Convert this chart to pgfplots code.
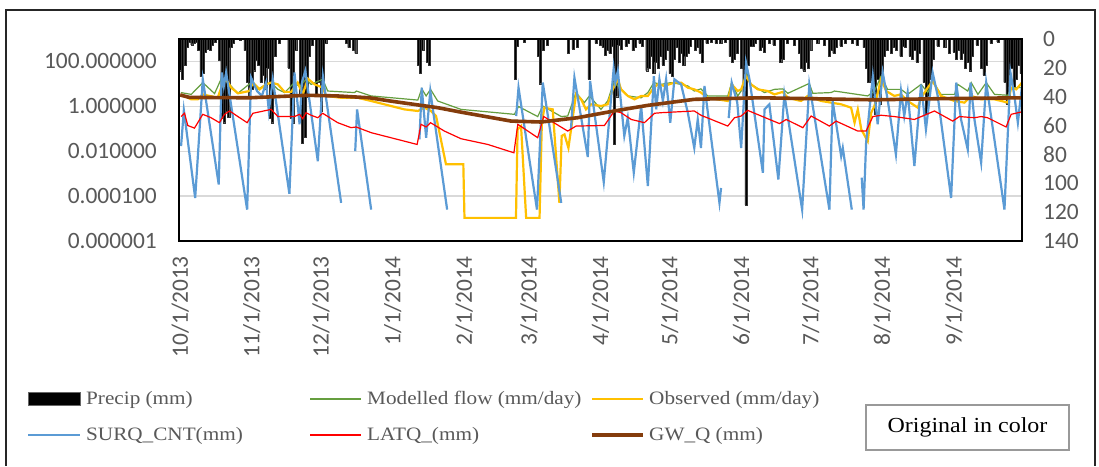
\documentclass[border=0pt]{standalone}
\usepackage{pgfplots}
\pgfplotsset{compat=1.18}
\usepackage{fontspec}
\setmainfont{Liberation Serif}
\newfontfamily\calib{Carlito}
\newfontfamily\legfont[FakeStretch=1.12]{Liberation Serif}
\definecolor{tickgray}{HTML}{595959}
\definecolor{gridgray}{HTML}{D9D9D9}
\definecolor{surq}{HTML}{5B9BD5}
\definecolor{obs}{HTML}{FFC000}
\definecolor{model}{HTML}{659E3F}
\definecolor{gwq}{HTML}{843C0C}
\pgfplotsset{base/.style={
  at={(179bp,225bp)}, anchor=south west, scale only axis,
  width=843bp, height=202bp, xmin=-0.5, xmax=364.5,
  major tick length=0pt,
  /pgf/number format/assume math mode=true,
  tick label style={font=\calib\fontsize{23.5}{24}\selectfont, text=tickgray, inner sep=0pt},
}}
\begin{document}
\begin{tikzpicture}
\begin{scope}[x=1bp,y=1bp]
\path[fill=white] (0,0) rectangle (1099,466);
\draw[line width=1.2bp, black!85] (6,0) -- (6,456) -- (1095,456) -- (1095,0);
\end{scope}
% Axis A: grid + left/x labels
\begin{axis}[base, ymode=log, ymin=1e-6, ymax=1000,
  ytick={1e-6,1e-4,1e-2,1,100},
  yticklabels={0.000001,0.000100,0.010000,1.000000,100.000000},
  ymajorgrids, grid style={gridgray, line width=1.3bp},
  xtick={0,31,61,92,123,151,182,212,243,273,304,335},
  xticklabels={10/1/2013,11/1/2013,12/1/2013,1/1/2014,2/1/2014,3/1/2014,4/1/2014,5/1/2014,6/1/2014,7/1/2014,8/1/2014,9/1/2014},
  x tick label style={rotate=90, anchor=east},
  xticklabel shift=15bp,
  y tick label style={anchor=east},
  yticklabel shift=22bp,
  axis line style={draw=none}]
\addplot[draw=none] coordinates {(0,1)};
\end{axis}
% Axis B: precipitation bars, right axis reversed
\begin{axis}[base, ymin=0, ymax=140, y dir=reverse,
  axis y line*=right, axis x line=none,
  ytick={0,20,40,60,80,100,120,140},
  y tick label style={anchor=west},
  yticklabel shift=21bp,
  axis line style={draw=none}]
\addplot[ybar, bar width=0.9, bar shift=0pt, fill=black, draw=black!80, line width=0.3bp] coordinates {
(0,22) (1,28) (2,18) (3,6) (4,2) (5,4) (6,3) (7,2) (8,8) (9,26) (10,24) (11,9) (12,7) (13,8) (14,4) (15,2)
(17,15) (18,55) (19,58) (20,50) (21,54) (22,6) (23,3) (26,1) (28,8) (29,30) (30,40) (31,35) (32,22) (33,15)
(34,18) (35,30) (36,25) (37,35) (38,20) (39,55) (40,58) (41,12) (43,3) (47,20) (48,55) (49,58) (50,8)
(52,38) (53,72) (54,68) (55,40) (56,12) (57,4) (59,38) (60,30) (61,50) (62,35) (63,3) (72,3) (73,6) (75,8) (76,10)
(103,18) (104,24) (105,8) (107,16) (108,18)
(145,28) (146,5) (149,2) (155,12) (156,31) (157,8) (159,4) (168,10) (170,7) (172,6) (177,28)
(180,3) (182,4) (183,6) (184,11) (185,8) (186,10) (187,5) (188,73) (189,40) (190,4) (191,7) (193,5) (194,3)
(196,8) (197,6) (199,3) (200,5) (202,22) (203,20) (204,12) (205,24) (206,16) (207,20) (208,12) (209,18)
(210,14) (211,8) (212,24) (213,26) (214,14) (215,6) (216,16) (217,10) (218,18) (219,12) (220,10) (221,5)
(223,8) (224,6) (225,10) (226,16) (228,3) (230,2) (232,3) (234,3) (236,2) (238,12) (239,16) (240,14) (241,10)
(243,20) (244,40) (245,115) (246,18) (247,5) (248,5) (249,3) (251,8) (252,6) (253,9) (255,3) (257,4)
(260,16) (261,14) (263,3) (266,4) (268,10) (269,20) (270,22) (271,16) (272,20) (273,8) (276,3) (279,4)
(281,12) (282,8) (283,10) (284,6) (286,5) (288,3) (291,3) (293,4) (296,6) (297,20) (298,30) (299,30) (300,40)
(301,52) (302,28) (303,45) (304,22) (305,12) (306,8) (308,10) (309,6) (310,8) (312,12) (313,5) (314,6)
(316,12) (317,14) (318,8) (319,16) (320,10) (322,30) (323,52) (324,40) (325,28) (326,14) (328,5) (331,6)
(333,10) (335,9) (336,14) (337,8) (338,14) (339,10) (340,20) (341,16) (342,22) (343,12) (345,4) (347,20)
(348,25) (349,18) (351,3) (354,2) (357,30) (358,45) (359,40) (360,20) (361,35) (362,28) (363,18) (364,24)
};
\end{axis}
% Axis C: flow lines + frame
\begin{axis}[base, ymode=log, ymin=1e-6, ymax=1000,
  xtick=\empty, ytick=\empty, axis on top,
  axis line style={black, line width=1.4bp},
  unbounded coords=jump]
% Modelled flow
\addplot[model, line width=1.2bp] coordinates {
(0.3,4.1) (4.8,3.4) (9.8,11.4) (14.9,3.7) (18.0,19) (20.6,11.4) (25.0,3.8) (30.7,11.4) (33.6,5.7) (37.2,9.5)
(39.4,11.4) (42.3,5.7) (45.2,4.1) (49.5,11.4) (51.7,7.5) (54.5,16) (56.7,9.5) (61.7,16) (63.9,4.8) (75.5,4.1)
(76.3,4.8) (82.7,2.9) (102.9,1.9) (104.6,6.0) (106.5,2.9) (108.4,5.7) (111.5,1.73) (121.6,0.73) (144.7,0.44)
(146.5,0.98) (154.8,0.35) (157.0,1.03) (165.0,0.35) (167.8,0.37) (171.4,4.1) (175.0,1.46) (177.2,2.9)
(182.2,0.73) (185.1,1.73) (187.7,11.4) (189.5,8.1) (193.8,2.9) (199.6,2.4) (202.5,4.1) (205.1,11.4)
(208.2,9.5) (212.6,11.4) (216.9,9.5) (219.8,8.1) (222.6,4.8) (225.5,6.0) (228.4,2.9) (237.1,2.9) (238.8,11.4)
(241.4,2.9) (242.9,4.8) (245.0,32) (247.2,9.5) (253.0,4.1) (257.3,5.7) (260.9,6.0) (263.1,3.8) (272.4,10.5)
(273.9,3.8) (281.8,4.1) (283.3,4.8) (297.7,2.9) (300.6,4.8) (303.5,22) (306.3,5.7) (312.1,5.7) (315.0,3.4)
(320.8,9.5) (323.7,4.1) (325.8,13.5) (329.4,3.4) (335.3,3.4) (336.7,9.5) (341.0,4.8) (342.5,11.4) (345.4,3.4)
(349.0,11.4) (352.6,3.4) (358.4,3.1) (359.8,6.8) (364.5,6.8)
};
% Observed
\addplot[obs, line width=2.2bp] coordinates {
(0.3,3.4) (4.8,2.05) (7.6,2.05) (9.8,3.4) (16.3,2.4) (18.5,11.4) (19.9,16) (22.1,6.8) (25.0,3.8) (30.0,4.8)
(31.5,11.4) (34.4,5.7) (37.2,9.5) (39.4,11.4) (42.3,9.5) (45.2,4.4) (48.1,4.4) (50.9,11.4) (53.1,3.4)
(55.3,17) (58.2,9.5) (61.7,6.8) (63.2,2.9) (69.7,2.4) (76.9,2.4) (82.7,1.73) (97.1,0.73) (102.9,0.62)
(105.8,0.87) (108.6,0.62) (110.8,0.37) (115.1,0.0026) (122.6,0.0026) (123.1,1.07e-5) (145.4,1.07e-5)
(146.1,0.094) (147.6,0.132) (149.8,1.07e-5) (155.6,1.07e-5) (156.6,0.187) (157.7,0.87) (161.3,0.73)
(164.2,5e-5) (165.2,0.048) (166.4,0.056) (168.1,0.014) (171.4,3.4) (173.6,2.05) (175.7,0.73) (177.9,1.23)
(182.2,1.03) (185.1,1.23) (187.3,5.7) (189.5,16) (190.9,5.7) (193.8,2.9) (196.7,2.05) (199.6,2.9) (202.5,2.9)
(205.1,6.8) (206.8,9.5) (209.7,8.1) (214.0,11.4) (216.9,11.4) (219.8,6.8) (222.6,5.7) (225.5,4.1) (228.4,2.4)
(237.1,1.73) (238.8,9.5) (241.4,4.8) (242.9,5.7) (245.0,22) (247.2,9.5) (250.1,5.7) (254.4,4.8) (257.3,3.4)
(260.9,4.4) (263.1,2.4) (268.8,1.73) (271.7,2.9) (273.9,2.4) (277.5,1.73) (281.8,1.46) (286.2,1.23)
(290.5,0.87) (292.0,0.187) (293.4,0.73) (294.9,0.094) (297.7,0.028) (299.2,0.52) (300.6,1.03) (303.5,16)
(305.7,4.8) (309.2,2.9) (312.1,3.4) (315.0,1.73) (319.4,0.87) (320.8,2.4) (323.7,6.8) (325.8,13.5) (329.4,2.9)
(335.3,1.73) (339.6,1.46) (342.5,2.9) (346.8,2.05) (352.6,2.05) (358.4,1.46) (359.8,6.8) (362.0,5.7) (364.5,11.4)
};
% SURQ_CNT
\addplot[surq, line width=2.2bp] coordinates {
(0.4,0.017) (1.6,0.66) (6.5,8.3e-5) (9.8,16) (16.7,3.3e-4) (18.0,32) (18.9,8) (19.9,32) (29.0,2.5e-5)
(30.7,19) (33.3,4.8) (35.4,2.9) (37.2,11.4) (38.4,0.62) (40.1,16) (47.3,1.26e-4) (49.5,32) (51.7,0.158)
(52.7,11.4) (54.2,38) (59.6,0.0036) (61.8,22) (69.7,5e-5) (70,nan)
(75.8,0.010) (76.6,0.73) (82.7,2.5e-5) (83,nan)
(103.6,0.034) (104.6,6.8) (106.5,0.040) (108.3,4.8) (115.6,2.5e-5) (116,nan)
(145.5,0.37) (146.5,6.8) (154.5,2.5e-5) (157.0,11.4) (165,5e-5) (166,nan)
(169.2,0.094) (170.7,19) (176.5,0.0055) (177.5,13.5) (183.4,4.2e-4) (187.7,48) (188.4,11.4) (189.5,38)
(192.3,0.048) (193.8,0.31) (196.4,0.0011) (199.6,1.03) (202.5,2.8e-4) (205.1,22) (206.1,0.73) (207.5,16)
(209.0,1.73) (210.4,16) (212.2,0.187) (214.0,16) (216.9,9.5) (219.8,0.52) (222.6,0.014) (224.1,0.26)
(225.5,0.014) (227.0,8.1) (233.5,5e-5) (234.2,2.3e-4) (235,nan)
(237.5,0.3) (238.8,11.4) (241.2,1.5) (242.9,0.014) (245,89) (246.5,16) (252.3,0.0011) (253.0,0.73)
(254.4,1.03) (255.1,1.23) (259.0,5.5e-4) (261.6,3.4) (269.3,2.5e-5) (272.4,9.5) (281.1,2.5e-5) (282.5,1.73)
(286.2,0.006) (286.9,0.014) (290.8,2.5e-5) (291.5,nan)
(295.1,6.6e-4) (295.9,2.5e-5) (297.0,0.024) (299.9,22) (302.0,0.158) (304.2,32) (306.3,2.05) (309.9,0.0072)
(312.1,4.8) (313.5,0.37) (315.0,4.1) (317.9,0.0022) (320.8,9.5) (322.9,0.094) (325.8,32) (328.0,2.9)
(333.8,8.3e-5) (336.0,11.4) (338.1,0.26) (341.0,0.012) (342.2,11.4) (343.9,0.26) (346.8,0.0031) (349.0,11.4)
(356.9,2.5e-5) (359.5,32) (361.2,2.9) (362.7,0.187) (364.5,8.1)
};
% LATQ
\addplot[red, line width=1.2bp] coordinates {
(0.4,0.35) (1.9,0.49) (3.3,0.14) (6.2,0.107) (9.8,0.44) (13.4,0.31) (17.0,0.187) (19.2,0.44) (21.4,0.62)
(25.0,0.35) (29.0,0.187) (31.5,0.49) (39.4,0.73) (42.3,0.35) (49.5,0.35) (51.7,0.44) (53.1,0.28) (54.5,0.52)
(56.7,0.40) (59.6,0.31) (61.7,0.49) (68.2,0.187) (74.0,0.112) (76.2,0.12) (82.7,0.067) (97.1,0.028)
(102.6,0.020) (104.3,0.158) (106.5,0.12) (108.4,0.187) (114.4,0.079) (121.6,0.036) (133.2,0.020)
(144.5,0.0085) (146.2,0.158) (154.8,0.040) (157.4,0.35) (167.8,0.079) (171.4,0.132) (183.7,0.14)
(188.0,0.62) (190.9,0.52) (195.3,0.26) (201.0,0.187) (205.4,0.49) (208.2,0.52) (222.6,0.62) (225.5,0.40)
(237.1,0.132) (240.0,0.31) (242.9,0.37) (245.7,0.66) (254.4,0.28) (259.5,0.17) (262.4,0.26) (269.6,0.112)
(273.2,0.37) (281.1,0.132) (284.0,0.22) (293.4,0.079) (297.0,0.079) (299.9,0.35) (303.5,0.40) (309.2,0.35)
(317.9,0.26) (326.6,0.62) (334.5,0.22) (337.4,0.35) (343.9,0.31) (346.8,0.35) (349.6,0.31) (357.6,0.12)
(359.8,0.44) (364.5,0.57)
};
% GW_Q
\addplot[gwq, line width=3.6bp] coordinates {
(0,3.2) (4,2.5) (30,2.4) (55,3.1) (68,2.9) (82,2.4) (90.8,1.73) (97.1,1.4) (111.5,0.87) (121.6,0.55)
(143.3,0.22) (156.3,0.20) (172,0.31) (187.9,0.62) (202.4,1.1) (222.6,2.05) (242.9,2.3) (251.5,2.4)
(300.6,1.95) (330,2.2) (364.5,2.4)
};
\end{axis}
% Legend
\begin{scope}[x=1bp,y=1bp]
\draw[fill=black, draw=black!60, line width=0.8bp] (28,61) rectangle (80,74);
\node[anchor=base west, inner sep=0pt, text=tickgray, font=\legfont\fontsize{19}{20}\selectfont] at (86,61) {Precip (mm)};
\draw[model, line width=1.5bp] (310,67) -- (361,67);
\node[anchor=base west, inner sep=0pt, text=tickgray, font=\legfont\fontsize{19}{20}\selectfont] at (367,61) {Modelled flow (mm/day)};
\draw[obs, line width=2.2bp] (592,67) -- (643,67);
\node[anchor=base west, inner sep=0pt, text=tickgray, font=\legfont\fontsize{19}{20}\selectfont] at (649,61) {Observed (mm/day)};
\draw[surq, line width=2.2bp] (28,31) -- (80,31);
\node[anchor=base west, inner sep=0pt, text=tickgray, font=\legfont\fontsize{19}{20}\selectfont] at (86,25) {SURQ\_CNT(mm)};
\draw[red, line width=1.3bp] (310,31) -- (361,31);
\node[anchor=base west, inner sep=0pt, text=tickgray, font=\legfont\fontsize{19}{20}\selectfont] at (367,25) {LATQ\_(mm)};
\draw[gwq, line width=3.6bp] (592,31) -- (643,31);
\node[anchor=base west, inner sep=0pt, text=tickgray, font=\legfont\fontsize{19}{20}\selectfont] at (649,25) {GW\_Q (mm)};
\draw[black!40, line width=1.5bp] (866,16) rectangle (1069,61);
\node[inner sep=0pt, text=black, font=\legfont\fontsize{21.5}{22}\selectfont] at (967.5,38.5) {Original in color};
\end{scope}
\end{tikzpicture}
\end{document}
